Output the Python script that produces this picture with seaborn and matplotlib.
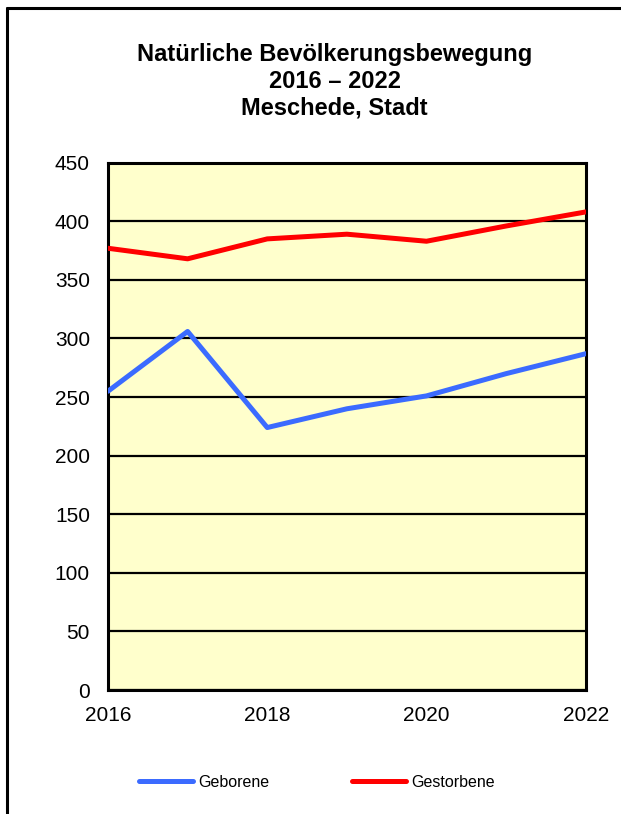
import matplotlib
matplotlib.use("Agg")
import matplotlib.pyplot as plt
import matplotlib.lines as mlines
import seaborn as sns
import pandas as pd

years = [2016, 2017, 2018, 2019, 2020, 2021, 2022]
geborene = [255, 306, 224, 240, 251, 270, 287]
gestorbene = [377, 368, 385, 389, 383, 396, 408]
series_names = ["Geborene", "Gestorbene"]
colors = ["#3B6BFF", "#FF0000"]
title = "Natürliche Bevölkerungsbewegung\n2016 – 2022\nMeschede, Stadt"
yticks = [0, 50, 100, 150, 200, 250, 300, 350, 400, 450]
xtick_labels = ["2016", "", "2018", "", "2020", "", "2022"]

df = pd.DataFrame({
    "Jahr": years * 2,
    "Wert": geborene + gestorbene,
    "Reihe": [series_names[0]] * len(years) + [series_names[1]] * len(years),
})

sns.set_style("white")
plt.rcParams["font.family"] = ["Liberation Sans", "DejaVu Sans"]
plt.rcParams["text.color"] = "black"
plt.rcParams["xtick.color"] = "black"
plt.rcParams["ytick.color"] = "black"
plt.rcParams["axes.labelcolor"] = "black"

fig = plt.figure(figsize=(6.21, 8.14), dpi=100)
ax = fig.add_axes([0.1739, 0.1523, 0.9432 - 0.1739, 0.8001 - 0.1523])
ax.set_facecolor("#FFFFCC")

sns.lineplot(data=df, x="Jahr", y="Wert", hue="Reihe", palette=colors,
             linewidth=3.6, ax=ax, legend=False, zorder=3)

ax.set_xlim(years[0], years[-1])
ax.set_ylim(0, 450)
ax.set_yticks(yticks)
ax.set_xticks(years)
ax.set_xticklabels(xtick_labels)
ax.grid(axis="y", color="black", linewidth=1.6, zorder=1)
ax.set_axisbelow(True)
ax.set_xlabel("")
ax.set_ylabel("")
for s in ax.spines.values():
    s.set_color("black")
    s.set_linewidth(2.2)
    s.set_visible(True)
ax.tick_params(axis="both", direction="out", length=4.5, width=1.8, color="black",
               labelcolor="black", labelsize=15)
ax.tick_params(axis="x", pad=7)
ax.tick_params(axis="y", pad=8.5)

fig.text(0.539, 0.947, title, ha="center", va="top", fontsize=17,
         fontweight="bold", linespacing=1.2, color="black", multialignment="center")

handles = [mlines.Line2D([], [], color=c, linewidth=3.6, solid_capstyle="round")
           for c in colors]
fig.legend(handles, series_names, loc="center", bbox_to_anchor=(0.510, 0.0393),
           ncol=2, frameon=False, fontsize=11.5, handlelength=3.4,
           handletextpad=0.3, columnspacing=5.2, labelcolor="black")

# outer chart frame (top and left edges visible)
fig.add_artist(mlines.Line2D([7 / 621, 1.0], [1 - 7.5 / 814, 1 - 7.5 / 814],
                             transform=fig.transFigure, color="black", linewidth=2.2))
fig.add_artist(mlines.Line2D([7 / 621, 7 / 621], [0.0, 1 - 7.5 / 814],
                             transform=fig.transFigure, color="black", linewidth=2.2))

fig.savefig("out.png", dpi=100, facecolor="white")
